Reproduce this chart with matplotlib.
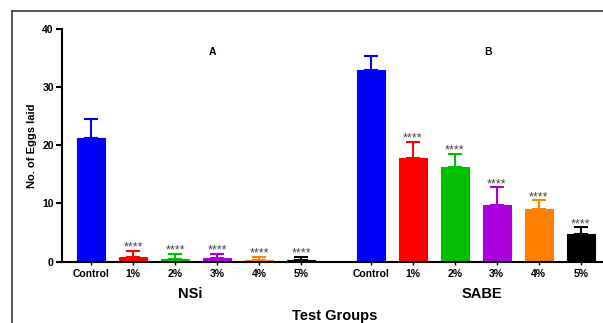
import matplotlib
matplotlib.use("Agg")
import matplotlib.pyplot as plt
import numpy as np

plt.rcParams['font.family'] = ['Liberation Sans', 'DejaVu Sans']
plt.rcParams['font.weight'] = 'bold'

# data
groups = ["NSi", "SABE"]
tick_labels = ["Control", "1%", "2%", "3%", "4%", "5%"]
nsi_means = [21.2, 0.72, 0.43, 0.55, 0.2, 0.2]
nsi_upper = [24.5, 1.86, 1.35, 1.35, 0.83, 0.83]
sabe_means = [33.0, 17.9, 16.2, 9.8, 9.1, 4.7]
sabe_upper = [35.4, 20.6, 18.6, 12.8, 10.6, 5.9]
stars = ["", "****", "****", "****", "****", "****"]
panel_letters = ["A", "B"]

colors = ["#0000ff", "#ff0000", "#00c000", "#aa00dd", "#ff8000", "#000000"]

fig = plt.figure(figsize=(6.03, 3.23), dpi=100)
ax = fig.add_axes([0.102, 0.1904, 0.898, 0.7189])

# outer frame of the original figure (only left and top edges show)
fx, fy = 11.5 / 603, 1 - 10.5 / 323
fig.add_artist(plt.Line2D([fx, fx], [0.0, fy], transform=fig.transFigure,
                          color="#3a3a3a", linewidth=1.2))
fig.add_artist(plt.Line2D([fx, 1.0], [fy, fy], transform=fig.transFigure,
                          color="#3a3a3a", linewidth=1.2))

gap = 6.66
pos_nsi = np.arange(6)
pos_sabe = np.arange(6) + gap
width = 0.667

for pos, means, upper in [(pos_nsi, nsi_means, nsi_upper), (pos_sabe, sabe_means, sabe_upper)]:
    for x, m, u, c, s in zip(pos, means, upper, colors, stars):
        ax.bar(x, m, width=width, color=c, edgecolor=c, linewidth=0.8, zorder=2)
        ax.errorbar(x, m, yerr=[[0], [u - m]], color=c, capsize=5,
                    elinewidth=1.5, capthick=1.5, zorder=1)
        if s:
            ax.annotate(s, xy=(x, u), xytext=(0, 0), textcoords="offset points",
                        ha="center", va="baseline", fontsize=9,
                        color="#444444", fontweight="normal")

ax.set_xlim(-0.702, 12.19)
ax.set_ylim(0, 40)
ax.set_yticks([0, 10, 20, 30, 40])
ax.set_xticks(np.concatenate([pos_nsi, pos_sabe]))
ax.set_xticklabels(tick_labels + tick_labels)

for side in ["top", "right"]:
    ax.spines[side].set_visible(False)
for side in ["left", "bottom"]:
    ax.spines[side].set_linewidth(1.5)

ax.tick_params(axis="y", width=1.5, length=4, labelsize=7.5, pad=1.5)
ax.tick_params(axis="x", width=1, length=2.5, labelsize=7.5, pad=3)

ax.set_ylabel("No. of Eggs laid", fontsize=8, fontweight="bold", labelpad=4)

# panel letters and group names
ax.text(2.9, 36.1, panel_letters[0], ha="center", va="center", fontsize=7.5, fontweight="bold")
ax.text(9.45, 36.1, panel_letters[1], ha="center", va="center", fontsize=7.5, fontweight="bold")
fig.text(190 / 603, 1 - 294 / 323, groups[0], ha="center", va="center", fontsize=10.5, fontweight="bold")
fig.text(482 / 603, 1 - 294 / 323, groups[1], ha="center", va="center", fontsize=10.5, fontweight="bold")
fig.text(335 / 603, 1 - 316 / 323, "Test Groups", ha="center", va="center", fontsize=10.5, fontweight="bold")

fig.savefig("out.png", dpi=100, facecolor="white")
